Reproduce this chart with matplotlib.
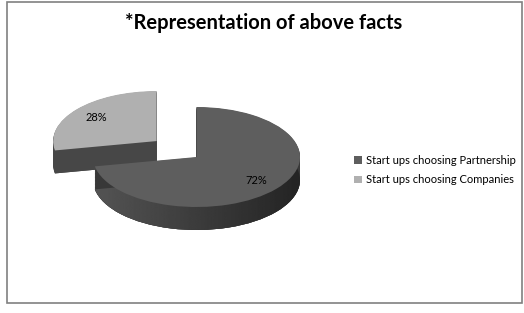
import numpy as np
import matplotlib
matplotlib.use("Agg")
import matplotlib.pyplot as plt
from matplotlib.patches import Patch, Rectangle

# ========================
# DATA
# ========================
LABELS = ["Start ups choosing Partnership", "Start ups choosing Companies"]
VALUES = [72, 28]
EXPLODE = [0, 0.5]
TOP_COLORS = ["#5e5e5e", "#b0b0b0"]
SIDE_COLORS = ["#383838", "#474747"]
TITLE = "*Representation of above facts"

# ========================
# LAYOUT (pixels)
# ========================
W, H = 524, 313
CX, CY = 196.5, 157      # pie centre, px from top-left
RX, RY = 103.5, 50       # ellipse radii, px
DEPTH = 23 / RY          # thickness in y units

plt.rcParams["font.family"] = ["Lato", "DejaVu Sans"]

fig = plt.figure(figsize=(W / 100, H / 100), dpi=100)
ax = fig.add_axes([0, 0, 1, 1])

def draw_pie(dy, colors, **kw):
    return ax.pie(VALUES, explode=EXPLODE, colors=colors, startangle=90,
                  counterclock=False, center=(0, dy), radius=1,
                  wedgeprops=dict(linewidth=0), frame=False, **kw)

# --- side (stacked layers) ---
for d in np.linspace(DEPTH, 0.01, 30):
    draw_pie(-d, SIDE_COLORS)

# horizontal gradient on the big slice side
bottom_wedges, _ = draw_pie(-DEPTH, SIDE_COLORS)
grad = np.linspace(0.33, 0.14, 256).reshape(1, -1)
im = ax.imshow(grad, cmap="gray", vmin=0, vmax=1, aspect="auto",
               extent=(-1, 1, -1 - DEPTH, 0), zorder=1.5)
im.set_clip_path(bottom_wedges[0])

# --- top face ---
top_wedges, _, autotexts = draw_pie(0, TOP_COLORS, autopct="%1.0f%%",
                                    pctdistance=0.75)
for w in top_wedges:
    w.set_zorder(2)
for t in autotexts:
    t.set_fontsize(8)
    t.set_color("black")
    t.set_zorder(3)

ax.set_aspect("auto")
ax.set_xlim(-CX / RX, (W - CX) / RX)
ax.set_ylim(-(H - CY) / RY, CY / RY)
ax.axis("off")

# --- title, legend, border ---
fig.text(0.504, 1 - 23 / H, TITLE, ha="center", va="center",
         fontsize=14.5, fontweight="bold")

handles = [Patch(facecolor=c, edgecolor="none") for c in TOP_COLORS]
fig.legend(handles, LABELS, loc="center left",
           bbox_to_anchor=(350 / W, 1 - 170 / H), frameon=False,
           fontsize=8, handlelength=0.7, handleheight=0.7,
           handletextpad=0.3, labelspacing=0.8, borderaxespad=0)

fig.patches.append(Rectangle((7 / W, 1 - 303 / H), 515 / W, 301 / H,
                             transform=fig.transFigure, fill=False,
                             edgecolor="#808080", linewidth=1.2))

fig.savefig("out.png", dpi=100)
